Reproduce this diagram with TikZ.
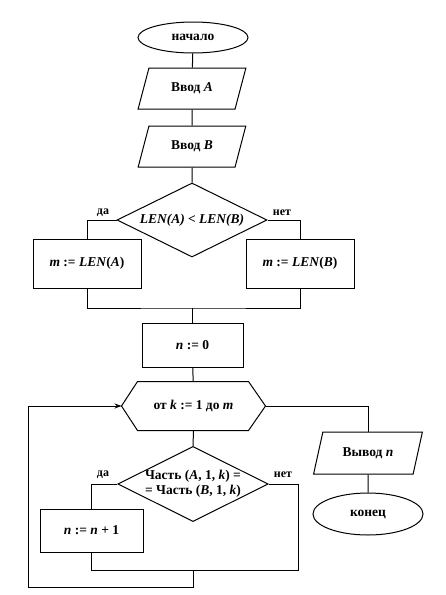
\documentclass[tikz,border=0pt]{standalone}
\usepackage{fontspec}
\setmainfont{Liberation Serif}
\usetikzlibrary{shapes.geometric,arrows.meta}
\newcommand{\vr}[1]{\textit{#1}}
\begin{document}
\begin{tikzpicture}[
    x=1pt, y=-1pt,
    line width=1pt,
    every node/.style={font=\fontsize{13.5}{15}\selectfont\bfseries, align=center},
    term/.style={draw, ellipse, minimum width=110, minimum height=31, inner sep=0},
    io/.style={draw, trapezium, trapezium left angle=65, trapezium right angle=115,
      trapezium stretches=true, minimum width=108, minimum height=41, inner sep=0},
    act/.style={draw, rectangle, minimum width=108, minimum height=49, inner sep=0},
    test/.style={draw, diamond, aspect=2, minimum width=150, minimum height=74, inner sep=0},
    branch/.style={font=\fontsize{12}{13}\selectfont\bfseries},
  ]
  \useasboundingbox (0,0) rectangle (445,595);

  % main column
  \node[term] (start) at (193,37.5) {начало};
  \node[io] (inA) at (192,88.5) {Ввод \vr{A}};
  \node[io] (inB) at (192,146.5) {Ввод \vr{B}};
  \node[test] (cmp) at (192,220) {\vr{LEN(A) < LEN(B)}};
  \node[act] (setA) at (87,263.5) {\vr{m} := \vr{LEN}(\vr{A})};
  \node[act] (setB) at (300,263.5) {\vr{m} := \vr{LEN}(\vr{B})};
  \node[act, minimum width=101, minimum height=44] (init) at (192.5,345) {\vr{n} := 0};

  % loop header
  \node[minimum width=143, minimum height=48, inner sep=0] (loop) at (193.5,406) {от \vr{k} := 1 до \vr{m}};
  \draw (loop.west) -- ([xshift=16]loop.north west) -- ([xshift=-17]loop.north east)
    -- (loop.east) -- ([xshift=-17]loop.south east) -- ([xshift=16]loop.south west) -- cycle;

  \node[test] (same) at (193,484) {Часть (\vr{A}, 1, \vr{k}) =\\= Часть (\vr{B}, 1, \vr{k})};
  \node[act, minimum width=103, minimum height=43] (inc) at (91.5,530.5) {\vr{n} := \vr{n} + 1};

  % output
  \node[io, minimum width=109, minimum height=42] (out) at (368,453) {Вывод \vr{n}};
  \node[term, minimum height=42] (finish) at (368,514) {конец};

  % branch labels
  \node[branch] (yes1) at (103,213) {да};
  \node[branch] (no1) at (282,213) {нет};
  \node[branch] (yes2) at (103,475) {да};
  \node[branch] (no2) at (283,475) {нет};

  \coordinate (join1) at (192.5,308);
  \coordinate (right2) at (298,570);
  \coordinate (join2) at (193,570);
  \coordinate (back) at (28,587);

  % connectors
  \draw (start) -- (inA);
  \draw (inA) -- (inB);
  \draw (inB) -- (cmp);
  \draw (cmp.west) -| (setA.north);
  \draw (cmp.east) -| (setB.north);
  \draw (setA.south) |- (join1) -| (setB.south);
  \draw (join1) -- (init.north);
  \draw (init) -- (loop);
  \draw (loop.south) -- (same.north);
  \draw (same.west) -| (inc.north);
  \draw (same.east) -| (right2) -| (inc.south);
  \draw[-{Stealth[length=7pt,width=5pt]}] (join2) |- (back) |- (loop.west);
  \draw (loop.east) -| (out.north);
  \draw (out.south) -- (finish.north);
\end{tikzpicture}
\end{document}
